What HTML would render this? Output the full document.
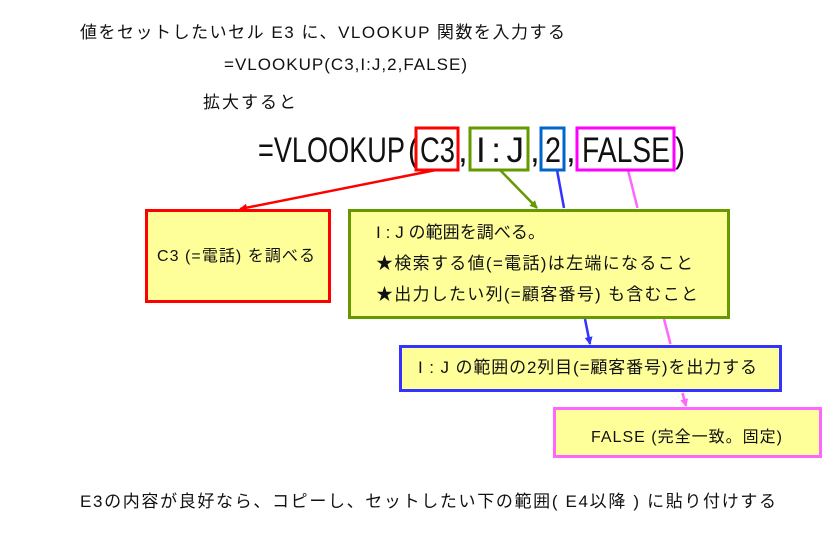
<!DOCTYPE html>
<html><head><meta charset="utf-8"><style>
body{margin:0;width:834px;height:534px;background:#fff;position:relative;overflow:hidden;font-family:"Liberation Sans","Noto Sans CJK JP",sans-serif;color:#111}
.b{position:absolute;background:#ffff99;box-sizing:border-box;border:3px solid}
svg text{font-family:"Liberation Sans","Noto Sans CJK JP",sans-serif;fill:#111}
</style></head><body>
<div class="b" style="left:145px;top:209px;width:186px;height:94px;border-color:red"></div>
<div class="b" style="left:348px;top:209px;width:382px;height:110px;border-color:#669900"></div>
<div class="b" style="left:399px;top:345px;width:383px;height:47px;border-color:#3333ff"></div>
<div class="b" style="left:553px;top:407px;width:269px;height:51px;border-color:#ff66ff"></div>
<svg width="834" height="534" style="position:absolute;left:0;top:0">
<defs>
<marker id="mr" markerWidth="8" markerHeight="8" refX="7" refY="4" orient="auto" markerUnits="userSpaceOnUse"><path d="M0,0L8,4L0,8z" fill="red"/></marker>
<marker id="mg" markerWidth="8" markerHeight="8" refX="7" refY="4" orient="auto" markerUnits="userSpaceOnUse"><path d="M0,0L8,4L0,8z" fill="#669900"/></marker>
<marker id="mb" markerWidth="8" markerHeight="8" refX="7" refY="4" orient="auto" markerUnits="userSpaceOnUse"><path d="M0,0L8,4L0,8z" fill="#3333ff"/></marker>
<marker id="mm" markerWidth="8" markerHeight="8" refX="7" refY="4" orient="auto" markerUnits="userSpaceOnUse"><path d="M0,0L8,4L0,8z" fill="#ff66ff"/></marker>
</defs>
<line x1="436" y1="170" x2="240" y2="209" stroke="red" stroke-width="2.5" marker-end="url(#mr)"/>
<line x1="500" y1="170" x2="537" y2="208" stroke="#669900" stroke-width="2.5" marker-end="url(#mg)"/>
<line x1="557" y1="170" x2="564" y2="208" stroke="#3333ff" stroke-width="2.5"/>
<line x1="585" y1="319" x2="590" y2="344" stroke="#3333ff" stroke-width="2.5" marker-end="url(#mb)"/>
<line x1="628" y1="170" x2="637.5" y2="208" stroke="#ff66ff" stroke-width="2.5"/>
<line x1="664" y1="319" x2="670.5" y2="344" stroke="#ff66ff" stroke-width="2.5"/>
<line x1="682.5" y1="393" x2="686" y2="406" stroke="#ff66ff" stroke-width="2.5" marker-end="url(#mm)"/>

<text x="80" y="38" font-size="17" textLength="485" lengthAdjust="spacing">値をセットしたいセル E3 に、VLOOKUP 関数を入力する</text>
<text x="224" y="70" font-size="17" textLength="243" lengthAdjust="spacing">=VLOOKUP(C3,I:J,2,FALSE)</text>
<text x="203" y="108" font-size="17" textLength="93" lengthAdjust="spacing">拡大すると</text>
<text x="80" y="507" font-size="17" textLength="696" lengthAdjust="spacing">E3の内容が良好なら、コピーし、セットしたい下の範囲( E4以降 ) に貼り付けする</text>

<g font-size="35">
<text x="258" y="162" textLength="147" lengthAdjust="spacingAndGlyphs">=VLOOKUP</text>
<text x="408" y="162" textLength="10" lengthAdjust="spacingAndGlyphs">(</text>
<text x="420" y="162" textLength="35" lengthAdjust="spacingAndGlyphs">C3</text>
<text x="458" y="162">,</text>
<text x="476" y="162" textLength="48" lengthAdjust="spacing">I : J</text>
<text x="530" y="162">,</text>
<text x="545" y="162" textLength="16" lengthAdjust="spacingAndGlyphs">2</text>
<text x="566" y="162">,</text>
<text x="582" y="162" textLength="88" lengthAdjust="spacingAndGlyphs">FALSE</text>
<text x="675" y="162" textLength="10" lengthAdjust="spacingAndGlyphs">)</text>
</g>
<rect x="416" y="128" width="42" height="42" fill="none" stroke="red" stroke-width="3"/>
<rect x="470" y="128" width="58" height="42" fill="none" stroke="#669900" stroke-width="3"/>
<rect x="541" y="128" width="23" height="42" fill="none" stroke="#0066cc" stroke-width="3"/>
<rect x="577" y="128" width="97" height="42" fill="none" stroke="#ff00ff" stroke-width="3"/>

<text x="157" y="261" font-size="16" textLength="158" lengthAdjust="spacing">C3 (=電話) を調べる</text>
<text x="376" y="238" font-size="17" textLength="169" lengthAdjust="spacing">I : J の範囲を調べる。</text>
<text x="376" y="269" font-size="17" textLength="317" lengthAdjust="spacing">★検索する値(=電話)は左端になること</text>
<text x="376" y="300" font-size="17" textLength="322" lengthAdjust="spacing">★出力したい列(=顧客番号) も含むこと</text>
<text x="418" y="373" font-size="17" textLength="339" lengthAdjust="spacing">I : J の範囲の2列目(=顧客番号)を出力する</text>
<text x="591" y="442" font-size="16" textLength="191" lengthAdjust="spacing">FALSE (完全一致。固定)</text>
</svg>
</body></html>
